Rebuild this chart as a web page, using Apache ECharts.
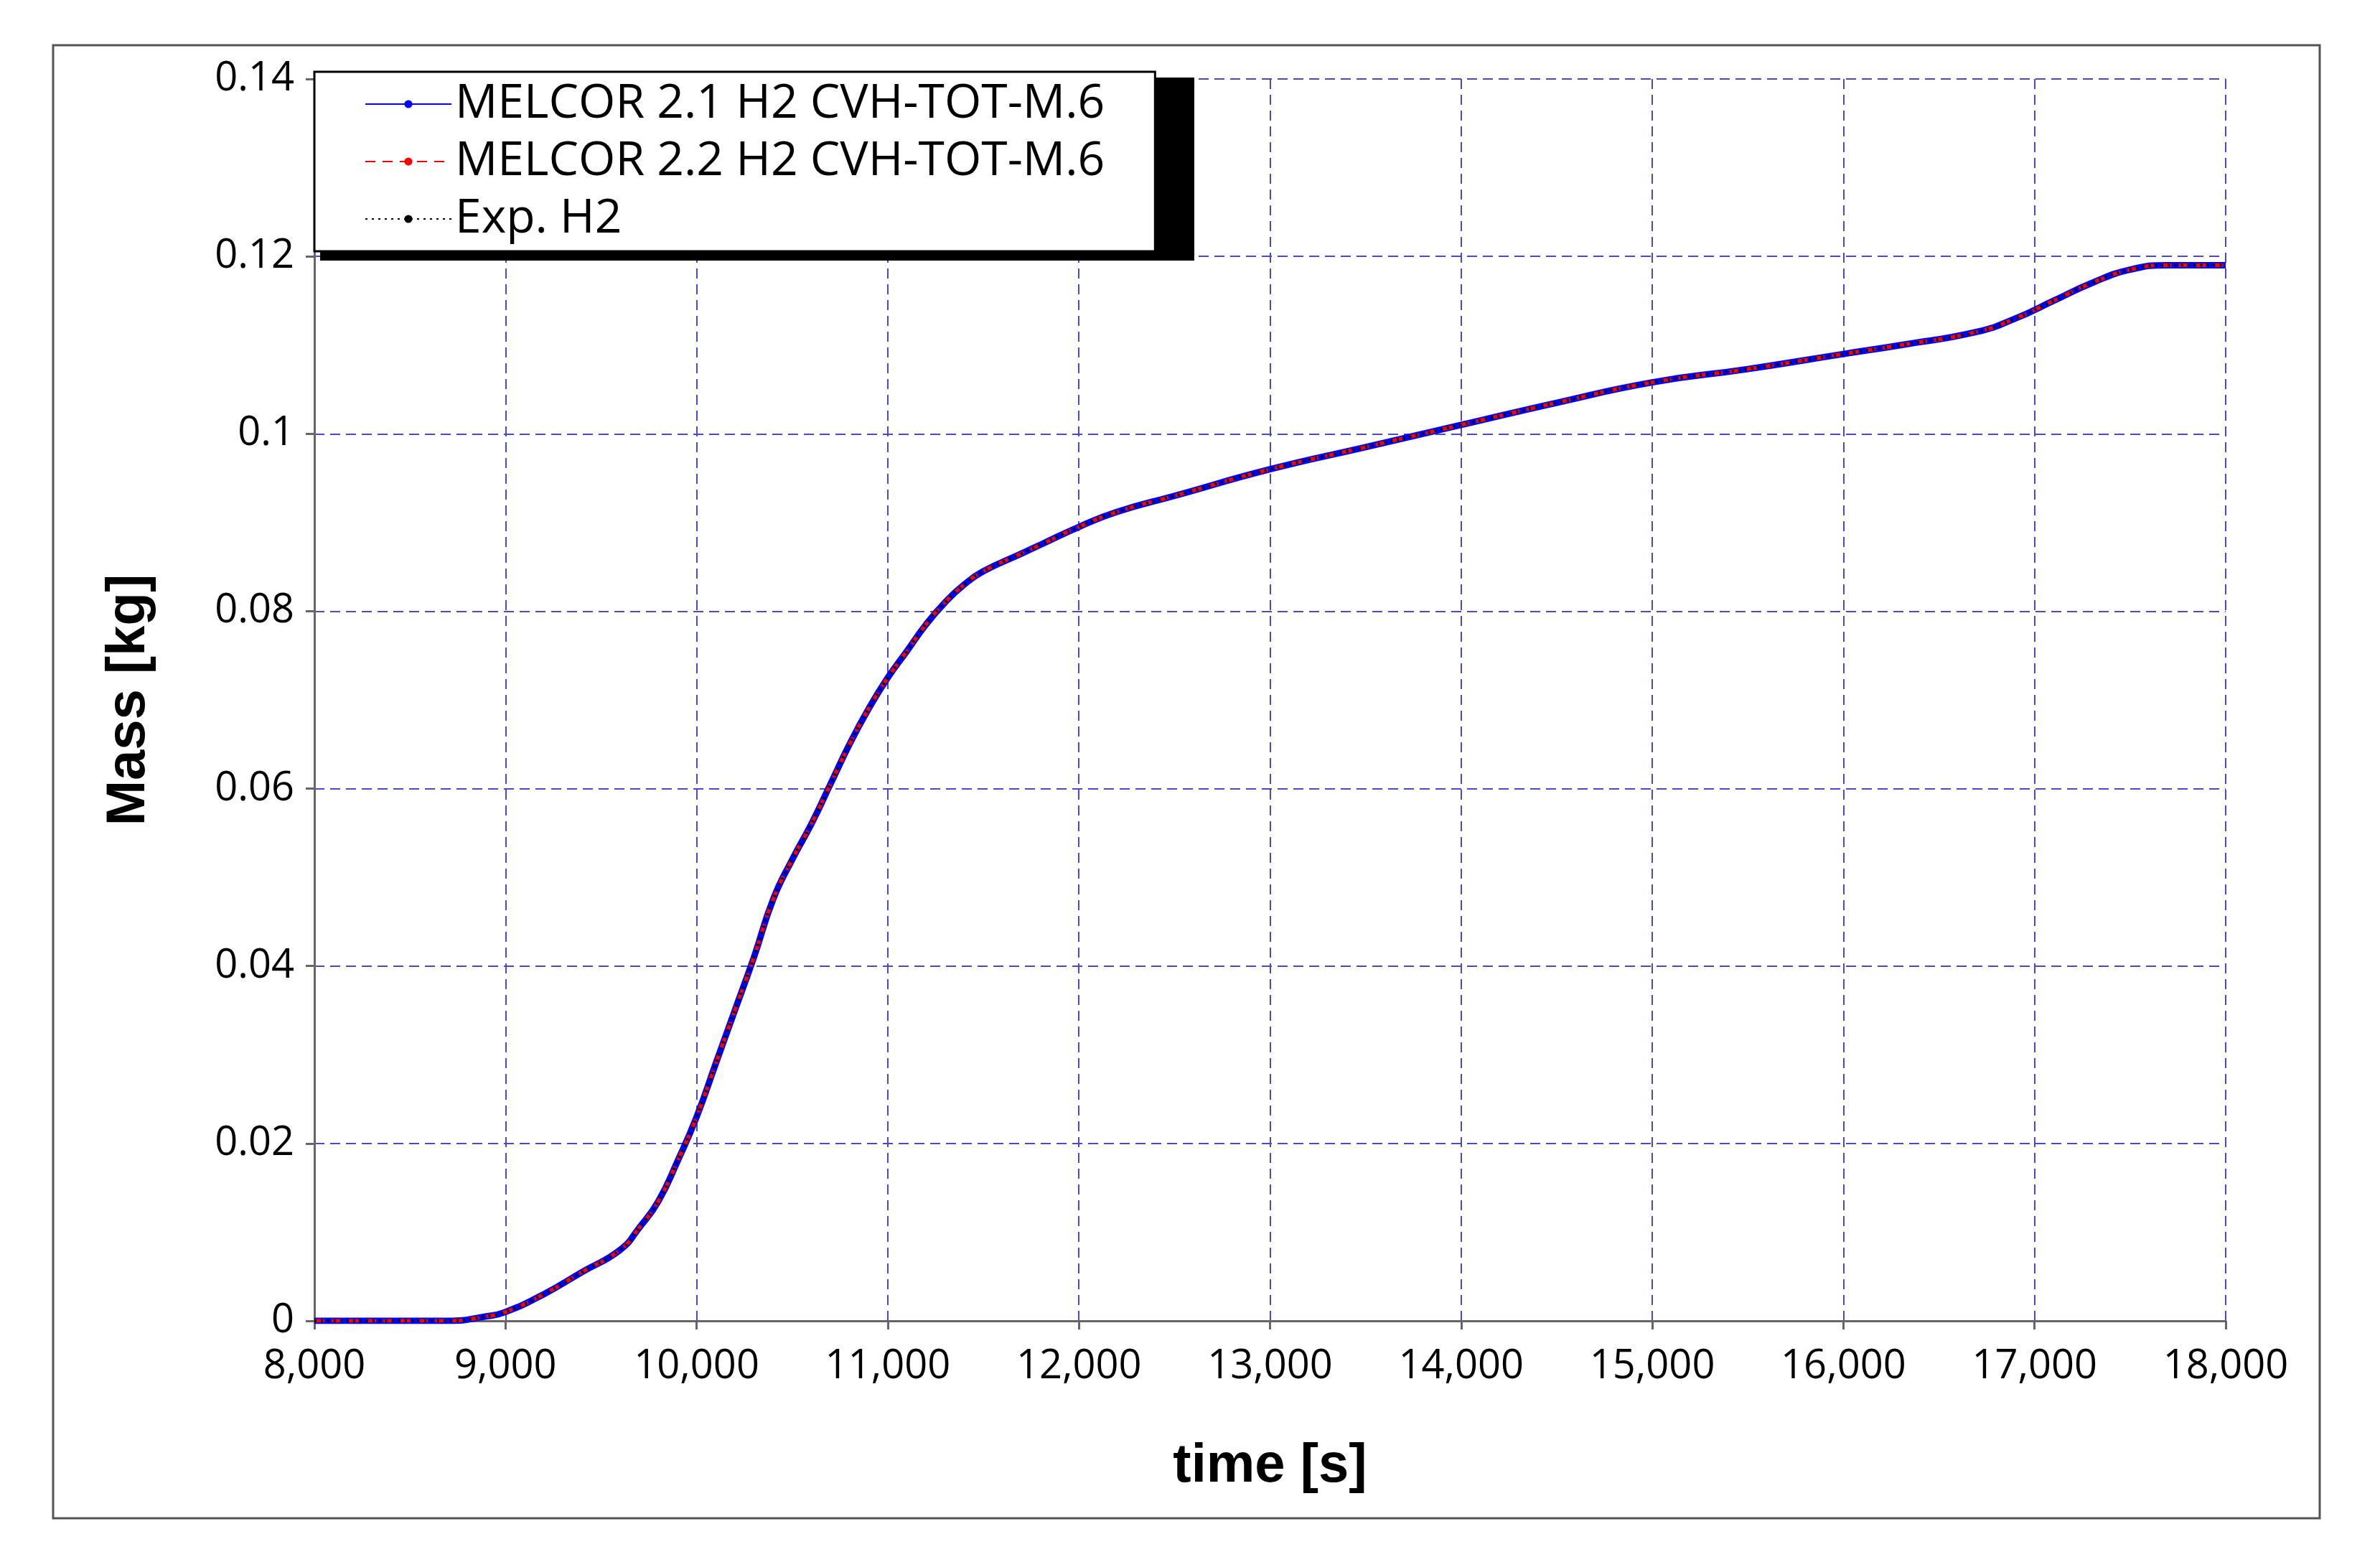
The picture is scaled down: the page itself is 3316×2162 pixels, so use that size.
<!DOCTYPE html>
<html><head><meta charset="utf-8">
<script src="https://cdn.jsdelivr.net/npm/echarts@6/dist/echarts.min.js"></script>
<style>html,body{margin:0;background:#fff}#c{width:3316px;height:2162px}</style>
</head><body><div id="c"></div>
<script>
const times = [8000,8700,8900,9000,9200,9400,9600,9700,9800,9900,10000,10100,10200,10300,10400,10500,10600,10700,10800,10900,11000,11100,11200,11300,11400,11500,11700,11800,12000,12200,12500,13000,13500,14000,14500,15000,15500,16000,16300,16700,16900,17100,17300,17500,17700,18000];
const melcor21 = [0,0,0.0005,0.001,0.003,0.0055,0.008,0.0105,0.0135,0.018,0.023,0.029,0.035,0.041,0.0475,0.052,0.056,0.0605,0.065,0.069,0.0725,0.0755,0.0785,0.081,0.083,0.0845,0.0865,0.0875,0.0895,0.0912,0.093,0.096,0.0985,0.101,0.1035,0.1058,0.1073,0.109,0.11,0.1115,0.113,0.115,0.117,0.1185,0.119,0.119];
const melcor22 = [0,0,0.0005,0.001,0.003,0.0055,0.008,0.0105,0.0135,0.018,0.023,0.029,0.035,0.041,0.0475,0.052,0.056,0.0605,0.065,0.069,0.0725,0.0755,0.0785,0.081,0.083,0.0845,0.0865,0.0875,0.0895,0.0912,0.093,0.096,0.0985,0.101,0.1035,0.1058,0.1073,0.109,0.11,0.1115,0.113,0.115,0.117,0.1185,0.119,0.119];
const expH2 = [0,0,0.0005,0.001,0.003,0.0055,0.008,0.0105,0.0135,0.018,0.023,0.029,0.035,0.041,0.0475,0.052,0.056,0.0605,0.065,0.069,0.0725,0.0755,0.0785,0.081,0.083,0.0845,0.0865,0.0875,0.0895,0.0912,0.093,0.096,0.0985,0.101,0.1035,0.1058,0.1073,0.109,0.11,0.1115,0.113,0.115,0.117,0.1185,0.119,0.119];
const seriesNames = ['MELCOR 2.1 H2 CVH-TOT-M.6','MELCOR 2.2 H2 CVH-TOT-M.6','Exp. H2'];
const pair = ys => times.map((t,i)=>[t,ys[i]]);
const chart = echarts.init(document.getElementById('c'));
const grid = {left:438,right:3316-3101,top:110,bottom:2162-1840};
const gridLine = {show:true,lineStyle:{color:'#4a4ac8',type:[14,8],width:2}};
chart.setOption({
  animation:false,
  graphic:[
    {type:'rect',shape:{x:74,y:63,width:3232-74,height:2115-63},style:{fill:null,stroke:'#555',lineWidth:3},z:-1},
    {type:'rect',shape:{x:446,y:108,width:1218,height:255},style:{fill:'#000'},z:9}
  ],
  grid,
  xAxis:{type:'value',min:8000,max:18000,interval:1000,
    name:'time [s]',nameLocation:'middle',nameGap:165,
    nameTextStyle:{fontFamily:'Liberation Sans',fontWeight:'bold',fontSize:76,color:'#000'},
    axisLine:{lineStyle:{color:'#666',width:3}},axisTick:{show:true,length:12,lineStyle:{color:'#666',width:3}},
    axisLabel:{fontFamily:'Open Sans',fontSize:56,color:'#000',margin:36,
      formatter:v=>v.toLocaleString('en-US')},
    splitLine:gridLine},
  yAxis:{type:'value',min:0,max:0.14,interval:0.02,
    name:'Mass [kg]',nameLocation:'middle',nameGap:220,
    nameTextStyle:{fontFamily:'Liberation Sans',fontWeight:'bold',fontSize:76,color:'#000'},
    axisLine:{show:true,lineStyle:{color:'#666',width:3}},axisTick:{show:true,length:12,lineStyle:{color:'#666',width:3}},
    axisLabel:{fontFamily:'Open Sans',fontSize:56,color:'#000',margin:28,
      formatter:v=>String(+v.toFixed(2))},
    splitLine:gridLine},
  legend:{left:438,top:100,orient:'vertical',itemWidth:120,itemHeight:14,itemGap:14,
    padding:[12,70,12,70],backgroundColor:'#fff',borderColor:'#000',borderWidth:3,z:10,
    textStyle:{fontFamily:'Open Sans',fontSize:66,color:'#000'},
    data:seriesNames},
  series:[
    {name:seriesNames[0],type:'line',data:pair(melcor21),symbol:'none',smooth:true,lineStyle:{color:'#0000ff',width:9},itemStyle:{color:'#0000ff'}},
    {name:seriesNames[1],type:'line',data:pair(melcor22),symbol:'none',smooth:true,lineStyle:{color:'#ff0000',width:5,type:[14,10]},itemStyle:{color:'#ff0000'}},
    {name:seriesNames[2],type:'line',data:pair(expH2),symbol:'none',smooth:true,lineStyle:{color:'#000',width:4,type:[3,6]},itemStyle:{color:'#000'}}
  ]
});
</script></body></html>
